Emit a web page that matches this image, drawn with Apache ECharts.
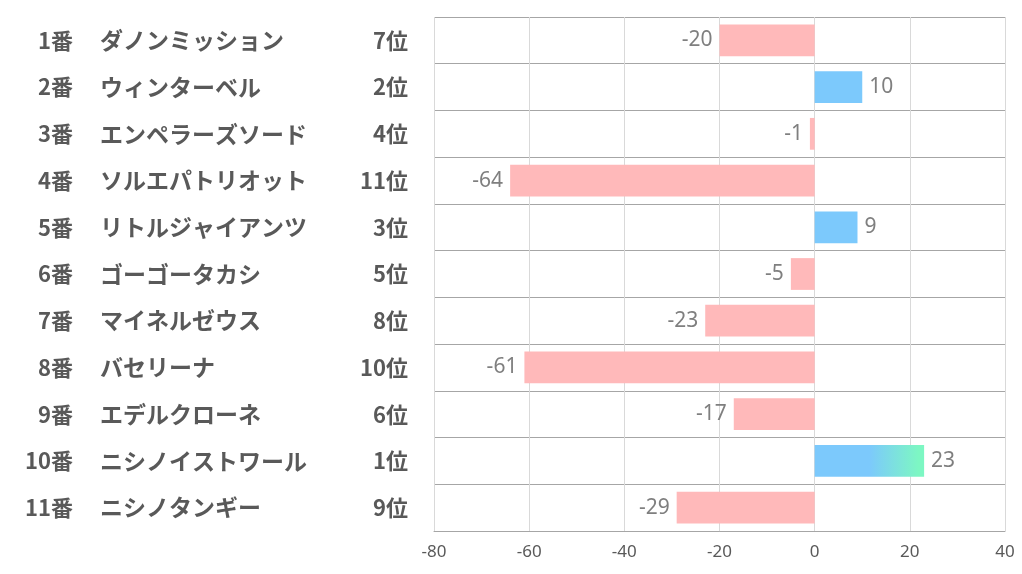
<!DOCTYPE html>
<html><head><meta charset="utf-8">
<script src="https://cdn.jsdelivr.net/npm/echarts@6/dist/echarts.min.js"></script>
<style>html,body{margin:0;padding:0;background:#fff}#c{width:1022px;height:574px}</style>
</head><body><div id="c"></div>
<script>
const nums = ['1番','2番','3番','4番','5番','6番','7番','8番','9番','10番','11番'];
const names = ['ダノンミッション','ウィンターベル','エンペラーズソード','ソルエパトリオット','リトルジャイアンツ','ゴーゴータカシ','マイネルゼウス','バセリーナ','エデルクローネ','ニシノイストワール','ニシノタンギー'];
const ranks = ['7位','2位','4位','11位','3位','5位','8位','10位','6位','1位','9位'];
const values = [-20, 10, -1, -64, 9, -5, -23, -61, -17, 23, -29];
const xTicks = [-80, -60, -40, -20, 0, 20, 40];

const PINK = '#FFB9BA', BLUE = '#7CC9FC', GREEN = '#7DF7C3';
const chart = echarts.init(document.getElementById('c'));
const labelFont = {fontFamily: 'Noto Sans CJK JP', fontWeight: 'bold', fontSize: 22, color: '#595959'};
const hiddenAxis = {axisLine:{show:false}, axisTick:{show:false}, splitLine:{show:false}};

const data = values.map((v, i) => ({
  value: v,
  itemStyle: {
    color: ranks[i] === '1位'
      ? new echarts.graphic.LinearGradient(0, 0, 1, 0, [
          {offset: 0, color: BLUE}, {offset: 0.5, color: BLUE}, {offset: 0.95, color: GREEN}, {offset: 1, color: GREEN}])
      : (v < 0 ? PINK : BLUE)
  },
  label: {position: v < 0 ? 'left' : 'right'}
}));

chart.setOption({
  animation: false,
  grid: {left: 434, right: 17, top: 17, bottom: 43, containLabel: false},
  xAxis: {
    type: 'value', min: xTicks[0], max: xTicks[xTicks.length - 1], interval: 20,
    axisLine: {show: true, onZero: false, lineStyle: {color: '#a6a6a6'}},
    axisTick: {show: false},
    axisLabel: {margin: 13, fontSize: 17, color: '#595959', fontFamily: 'Noto Sans'},
    splitLine: {show: true, lineStyle: {color: '#d9d9d9'}}
  },
  yAxis: [
    {type: 'category', inverse: true, data: ranks, position: 'left',
     axisLine: {show: false, onZero: false}, axisTick: {show: false},
     splitLine: {show: true, lineStyle: {color: '#a6a6a6'}},
     axisLabel: Object.assign({margin: 26, align: 'right'}, labelFont)},
    Object.assign({type: 'category', inverse: true, data: names, position: 'left',
     axisLabel: Object.assign({}, labelFont, {margin: 334, align: 'left', fontSize: 23})}, hiddenAxis),
    Object.assign({type: 'category', inverse: true, data: nums, position: 'left',
     axisLabel: Object.assign({margin: 361, align: 'right'}, labelFont)}, hiddenAxis)
  ],
  series: [{
    type: 'bar', yAxisIndex: 0, data: data, barWidth: '68%',
    label: {show: true, distance: 7, fontSize: 21, color: '#7f7f7f', fontFamily: 'Noto Sans', padding: [6, 0, 0, 0]}
  }]
});
</script></body></html>
